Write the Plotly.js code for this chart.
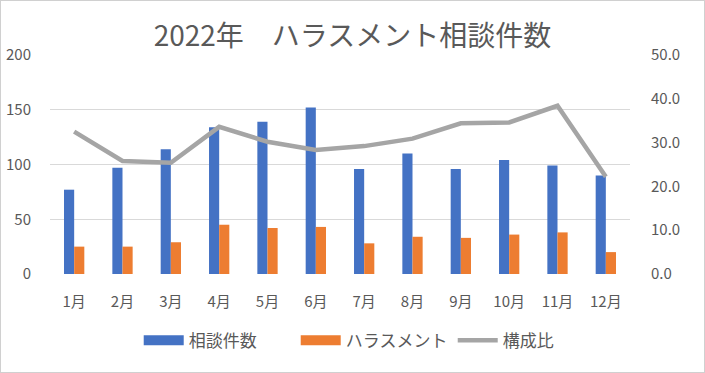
<!DOCTYPE html>
<html>
<head>
<meta charset="utf-8">
<script src="https://cdn.plot.ly/plotly-3.0.1.min.js"></script>
<style>
  html, body { margin: 0; padding: 0; background: #fff; }
  #chart { width: 703px; height: 371px; border: 1px solid #D0D0D0; }
</style>
</head>
<body>
<div id="chart"></div>
<script>
const months = ["1月","2月","3月","4月","5月","6月","7月","8月","9月","10月","11月","12月"];
const consultations = [77, 97, 114, 134, 139, 152, 96, 110, 96, 104, 99, 90];
const harassment = [25, 25, 29, 45, 42, 43, 28, 34, 33, 36, 38, 20];
const ratio = [32.5, 25.8, 25.4, 33.6, 30.2, 28.3, 29.2, 30.9, 34.4, 34.6, 38.4, 22.2];
const seriesNames = ["相談件数", "ハラスメント", "構成比"];
const leftTicks = [0, 50, 100, 150, 200];
const rightTicks = [0, 10, 20, 30, 40, 50];

const FONT = '"Noto Sans CJK JP", "Noto Sans", sans-serif';
const GREY = '#595959';

const traces = [
  {type: 'bar', x: months, y: consultations, name: seriesNames[0], marker: {color: '#4472C4'}, showlegend: false, hoverinfo: 'skip'},
  {type: 'bar', x: months, y: harassment, name: seriesNames[1], marker: {color: '#ED7D31'}, showlegend: false, hoverinfo: 'skip'},
  {type: 'scatter', mode: 'lines', x: months, y: ratio, yaxis: 'y2', name: seriesNames[2], line: {color: '#A5A5A5', width: 4.5}, showlegend: false, hoverinfo: 'skip'},
  {type: 'scatter', mode: 'lines', x: [null], y: [null], name: seriesNames[0], line: {color: '#4472C4', width: 10}},
  {type: 'scatter', mode: 'lines', x: [null], y: [null], name: seriesNames[1], line: {color: '#ED7D31', width: 10}},
  {type: 'scatter', mode: 'lines', x: [null], y: [null], yaxis: 'y2', name: seriesNames[2], line: {color: '#A5A5A5', width: 4.5}}
];

const layout = {
  width: 703, height: 371,
  margin: {l: 49, r: 74, t: 54, b: 98, pad: 0, autoexpand: false},
  paper_bgcolor: '#fff', plot_bgcolor: '#fff',
  font: {family: FONT, color: GREY, size: 15},
  title: {text: '2022年　ハラスメント相談件数', x: 0.5, xref: 'container', xanchor: 'center', y: 0.905, yref: 'container', yanchor: 'middle', font: {family: FONT, size: 28, color: GREY}},
  barmode: 'group', bargap: 0.58, bargroupgap: 0,
  xaxis: {type: 'category', tickangle: 0, automargin: false, showgrid: false, zeroline: false, showline: false, ticks: 'outside', ticklen: 14, tickcolor: 'rgba(0,0,0,0)', tickfont: {size: 15, color: GREY}},
  yaxis: {range: [0, 200], automargin: false, tickvals: leftTicks, showgrid: true, gridcolor: '#D9D9D9', gridwidth: 1, zeroline: false, showline: false, ticks: 'outside', ticklen: 15, tickcolor: 'rgba(0,0,0,0)', tickfont: {size: 15, color: GREY}},
  yaxis2: {range: [0, 50], automargin: false, tickvals: rightTicks, tickformat: '.1f', overlaying: 'y', side: 'right', showgrid: false, zeroline: false, showline: false, ticks: 'outside', ticklen: 17, tickcolor: 'rgba(0,0,0,0)', tickfont: {size: 15, color: GREY}},
  legend: {orientation: 'h', x: 0.559, xanchor: 'center', y: -0.305, yanchor: 'middle', font: {size: 17, color: GREY}, itemwidth: 40, entrywidth: 102, tracegroupgap: 0},
  showlegend: true
};

Plotly.newPlot('chart', traces, layout, {displayModeBar: false, staticPlot: true});
</script>
</body>
</html>
